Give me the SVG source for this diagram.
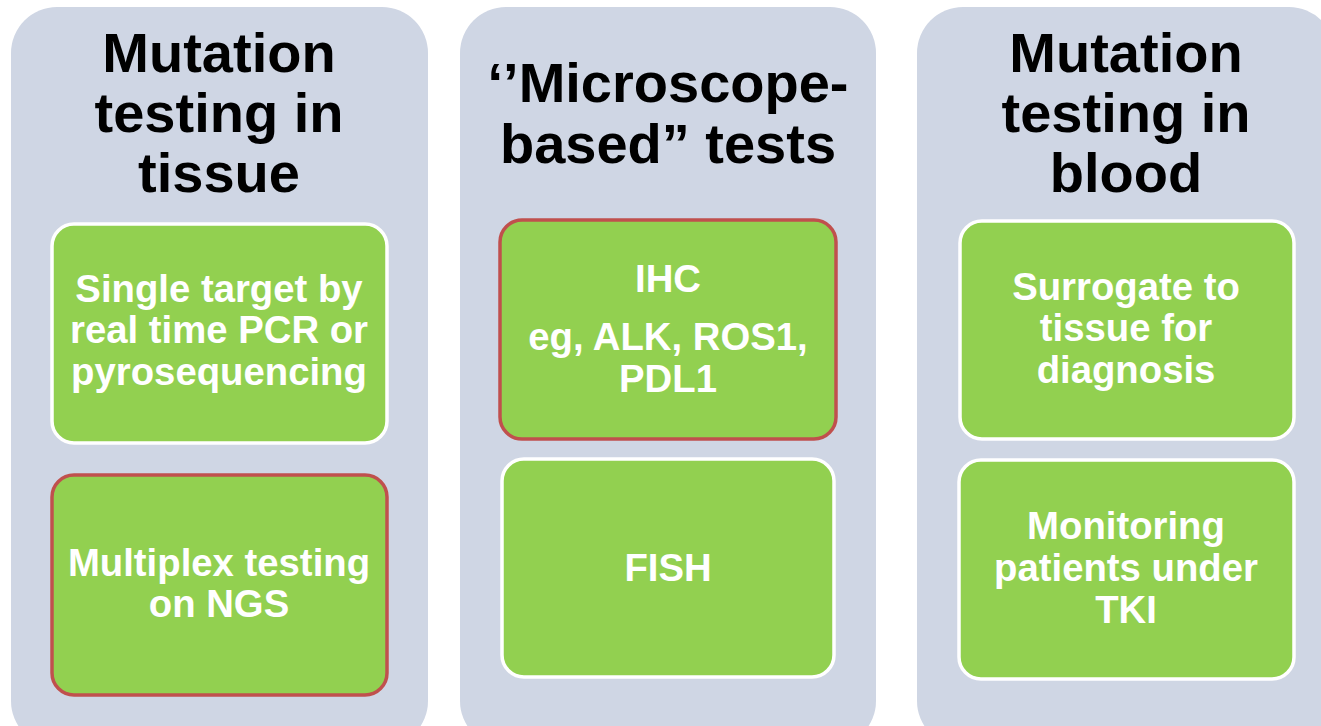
<svg xmlns="http://www.w3.org/2000/svg" width="1321" height="726" viewBox="0 0 1321 726">
  <style>
    .panel { fill: #CFD6E4; }
    .card { fill: #92D050; stroke-width: 3.5; }
    .plain { stroke: #FFFFFF; }
    .flag { stroke: #C0504D; }
    .title { font-family: "Liberation Sans", Arial, sans-serif; font-weight: bold; font-size: 56px; fill: #000000; text-anchor: middle; }
    .label { font-family: "Liberation Sans", Arial, sans-serif; font-weight: bold; font-size: 38.3px; fill: #FFFFFF; text-anchor: middle; }
  </style>
  <rect width="1321" height="726" fill="#FFFFFF"/>

  <!-- Column: tissue -->
  <g id="col-tissue">
    <rect class="panel" x="11" y="7" width="417" height="740" rx="46" ry="46"/>
    <text class="title" x="219" y="72">Mutation</text>
    <text class="title" x="219" y="132">testing in</text>
    <text class="title" x="219" y="192">tissue</text>
  </g>
  <g id="node-single-target">
    <rect class="card plain" x="52" y="224" width="335" height="219" rx="22" ry="22"/>
    <text class="label" x="219" y="302">Single target by</text>
    <text class="label" x="219" y="343">real time PCR or</text>
    <text class="label" x="219" y="385">pyrosequencing</text>
  </g>
  <g id="node-multiplex">
    <rect class="card flag" x="52" y="475" width="335" height="220" rx="22" ry="22"/>
    <text class="label" x="219" y="576">Multiplex testing</text>
    <text class="label" x="219" y="617">on NGS</text>
  </g>

  <!-- Column: microscope-based -->
  <g id="col-microscope">
    <rect class="panel" x="460" y="7" width="416" height="740" rx="46" ry="46"/>
    <text class="title" x="668" y="102">‘’Microscope-</text>
    <text class="title" x="668" y="163">based” tests</text>
  </g>
  <g id="node-ihc">
    <rect class="card flag" x="500" y="220" width="336" height="219" rx="22" ry="22"/>
    <text class="label" x="668" y="292">IHC</text>
    <text class="label" x="668" y="350">eg, ALK, ROS1,</text>
    <text class="label" x="668" y="392">PDL1</text>
  </g>
  <g id="node-fish">
    <rect class="card plain" x="502" y="459" width="332" height="218" rx="22" ry="22"/>
    <text class="label" x="668" y="581">FISH</text>
  </g>

  <!-- Column: blood -->
  <g id="col-blood">
    <rect class="panel" x="917" y="7" width="418" height="740" rx="46" ry="46"/>
    <text class="title" x="1126" y="72">Mutation</text>
    <text class="title" x="1126" y="132">testing in</text>
    <text class="title" x="1126" y="192">blood</text>
  </g>
  <g id="node-surrogate">
    <rect class="card plain" x="960" y="221" width="334" height="218" rx="22" ry="22"/>
    <text class="label" x="1126" y="300">Surrogate to</text>
    <text class="label" x="1126" y="341">tissue for</text>
    <text class="label" x="1126" y="383">diagnosis</text>
  </g>
  <g id="node-monitoring">
    <rect class="card plain" x="959" y="460" width="335" height="219" rx="22" ry="22"/>
    <text class="label" x="1126" y="539">Monitoring</text>
    <text class="label" x="1126" y="581">patients under</text>
    <text class="label" x="1126" y="623">TKI</text>
  </g>

  <!-- no connectors in this figure -->
  <g id="connectors"/>
</svg>
